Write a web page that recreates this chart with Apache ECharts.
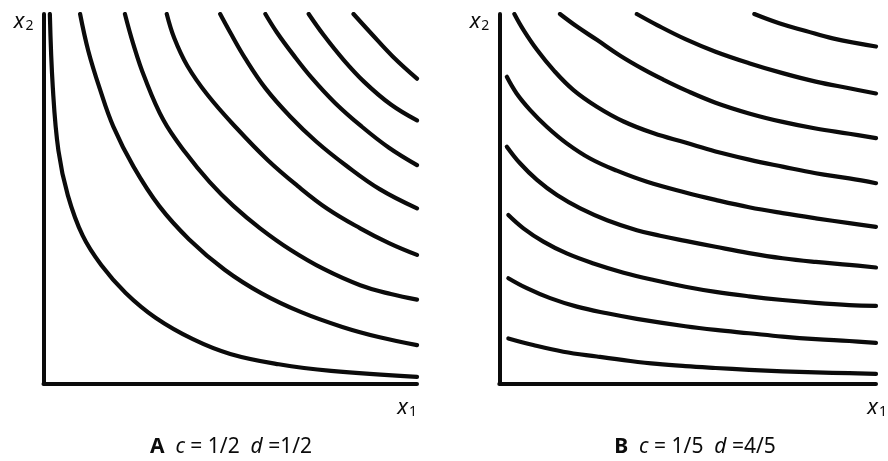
<!DOCTYPE html>
<html>
<head>
<meta charset="utf-8">
<title>Cobb-Douglas indifference curves</title>
<script src="https://cdn.jsdelivr.net/npm/echarts@6/dist/echarts.min.js"></script>
<style>
  html, body { margin: 0; padding: 0; background: #fff; }
  #chart { width: 888px; height: 461px; }
</style>
</head>
<body>
<div id="chart"></div>
<script>
// points; both axes of each panel run 0..10
// panel A, c = 1/2, d = 1/2
const a1 = [[0.17,10],[0.25,8],[0.4,6.3],[0.65,5.1],[1.05,4.0],[1.55,3.2],[2.2,2.45],[3.0,1.78],[4.0,1.2],[5.0,0.8],[6.3,0.52],[7.7,0.34],[10,0.18]];
const a2 = [[0.98,10],[1.2,9.0],[1.5,8.0],[1.87,6.95],[2.41,5.87],[3.1,4.8],[3.9,3.9],[4.85,3.08],[5.84,2.44],[6.9,1.93],[8.0,1.53],[9.0,1.25],[10,1.04]];
const a3 = [[2.18,10],[2.4,9.2],[2.7,8.3],[3.21,7.13],[3.8,6.25],[4.45,5.45],[5.09,4.8],[5.8,4.2],[6.61,3.62],[7.5,3.1],[8.48,2.66],[9.3,2.42],[10,2.27]];
const a4 = [[3.3,10],[3.5,9.35],[3.85,8.6],[4.4,7.8],[5.18,6.9],[6.0,6.05],[6.8,5.35],[7.6,4.73],[8.48,4.2],[9.25,3.8],[10,3.48]];
const a5 = [[4.73,10],[5.0,9.5],[5.4,8.8],[5.95,7.98],[6.61,7.22],[7.3,6.55],[8.1,5.9],[9.0,5.26],[10,4.74]];
const a6 = [[5.94,10],[6.25,9.5],[6.7,8.88],[7.2,8.25],[7.8,7.6],[8.5,6.97],[9.25,6.38],[10,5.91]];
const a7 = [[7.1,10],[7.5,9.43],[8.0,8.8],[8.6,8.15],[9.3,7.55],[10,7.12]];
const a8 = [[8.3,10],[8.75,9.5],[9.35,8.85],[10,8.25]];

// panel B, c = 1/5, d = 4/5
const b1 = [[0.24,1.22],[0.9,1.04],[1.7,0.86],[2.59,0.73],[3.48,0.61],[4.19,0.53],[4.94,0.47],[5.74,0.42],[6.63,0.37],[7.52,0.33],[8.4,0.3],[9.29,0.28],[10,0.26]];
const b2 = [[0.24,2.85],[0.73,2.58],[1.35,2.31],[2.06,2.08],[2.86,1.9],[3.65,1.75],[4.94,1.55],[5.74,1.45],[6.63,1.36],[7.52,1.27],[8.4,1.2],[9.29,1.15],[10,1.1]];
const b3 = [[0.24,4.56],[0.64,4.2],[1.17,3.84],[1.79,3.52],[2.5,3.25],[3.3,3.0],[4.1,2.8],[4.94,2.62],[5.74,2.48],[6.63,2.36],[7.52,2.26],[8.4,2.18],[9.29,2.12],[10,2.1]];
const b4 = [[0.2,6.41],[0.55,5.96],[1.0,5.51],[1.53,5.1],[2.15,4.74],[2.86,4.42],[3.65,4.15],[4.27,4.0],[4.94,3.86],[5.74,3.7],[6.63,3.53],[7.52,3.39],[8.4,3.29],[9.29,3.21],[10,3.14]];
const b5 = [[0.2,8.3],[0.46,7.85],[0.82,7.4],[1.26,6.95],[1.79,6.5],[2.41,6.09],[3.12,5.76],[3.92,5.46],[4.94,5.17],[5.74,4.97],[6.63,4.77],[7.52,4.61],[8.4,4.47],[9.29,4.34],[10,4.24]];
const b6 = [[0.4,10],[0.64,9.57],[1.0,9.03],[1.44,8.48],[1.97,7.94],[2.59,7.49],[3.3,7.09],[4.1,6.77],[4.94,6.52],[5.74,6.28],[6.63,6.06],[7.52,5.87],[8.4,5.69],[9.29,5.55],[10,5.42]];
const b7 = [[1.61,10],[2.06,9.66],[2.59,9.3],[3.21,8.87],[3.83,8.5],[4.36,8.22],[4.94,7.94],[5.74,7.6],[6.63,7.31],[7.52,7.08],[8.4,6.9],[9.29,6.76],[10,6.64]];
const b8 = [[3.65,10],[4.19,9.7],[4.94,9.32],[5.74,8.98],[6.63,8.67],[7.52,8.4],[8.4,8.17],[9.29,7.99],[10,7.85]];
const b9 = [[6.77,10],[7.43,9.75],[8.14,9.54],[8.85,9.34],[10,9.12]];

const curvesA = [a1, a2, a3, a4, a5, a6, a7, a8];
const curvesB = [b1, b2, b3, b4, b5, b6, b7, b8, b9];

const panelLetters = ["A", "B"];
const cValues = ["1/2", "1/5"];
const dValues = ["1/2", "4/5"];

const ink = "#0b0b0b";
const font = "'Noto Sans', 'DejaVu Sans', sans-serif";

const chart = echarts.init(document.getElementById("chart"));

const varRich = {
  v: { fontSize: 22, fontStyle: "italic", fontFamily: font, color: ink },
  s: { fontSize: 14, fontFamily: font, color: ink, padding: [9, 0, 0, 1] },
};

function makeX(idx, gap) {
  return {
    type: "value",
    gridIndex: idx,
    min: 0,
    max: 10,
    name: "{v|x}{s|1}",
    nameLocation: "end",
    nameGap: gap,
    nameTextStyle: { align: "right", verticalAlign: "top", padding: [13, 0, 0, 0], rich: varRich },
    axisLine: { show: true, onZero: false, lineStyle: { color: ink, width: 4 } },
    axisTick: { show: false },
    axisLabel: { show: false },
    splitLine: { show: false },
  };
}

function makeY(idx) {
  return {
    type: "value",
    gridIndex: idx,
    min: 0,
    max: 10,
    name: "{v|x}{s|2}",
    nameLocation: "end",
    nameGap: 0,
    nameTextStyle: { align: "right", verticalAlign: "top", padding: [-4, 10, 0, 0], rich: varRich },
    axisLine: { show: true, onZero: false, lineStyle: { color: ink, width: 4 } },
    axisTick: { show: false },
    axisLabel: { show: false },
    splitLine: { show: false },
  };
}

function curveSeries(data, idx) {
  return {
    type: "line",
    xAxisIndex: idx,
    yAxisIndex: idx,
    data: data,
    smooth: 0.4,
    symbol: "none",
    clip: true,
    lineStyle: { color: ink, width: 4.2, cap: "round", join: "round" },
  };
}

const series = [];
curvesA.forEach((d) => series.push(curveSeries(d, 0)));
curvesB.forEach((d) => series.push(curveSeries(d, 1)));

const captionCenters = [231, 695];
const captions = panelLetters.map((letter, i) => ({
  type: "text",
  x: captionCenters[i],
  y: 447,
  style: {
    text: "{b|" + letter + "}  {i|c} = " + cValues[i] + "  {i|d} =" + dValues[i],
    align: "center",
    verticalAlign: "middle",
    fontSize: 21,
    fontFamily: font,
    fill: ink,
    rich: {
      b: { fontSize: 21, fontWeight: "bold", fontFamily: font, fill: ink },
      i: { fontSize: 21, fontStyle: "italic", fontFamily: font, fill: ink },
    },
  },
}));

const option = {
  animation: false,
  backgroundColor: "#fff",
  grid: [
    { left: 43.5, top: 14, width: 373.5, height: 369.5, containLabel: false, outerBoundsMode: "none" },
    { left: 499.3, top: 14, width: 376.7, height: 369.5, containLabel: false, outerBoundsMode: "none" },
  ],
  xAxis: [makeX(0, 0), makeX(1, 11)],
  yAxis: [makeY(0), makeY(1)],
  series: series,
  graphic: captions,
};

chart.setOption(option);
</script>
</body>
</html>
